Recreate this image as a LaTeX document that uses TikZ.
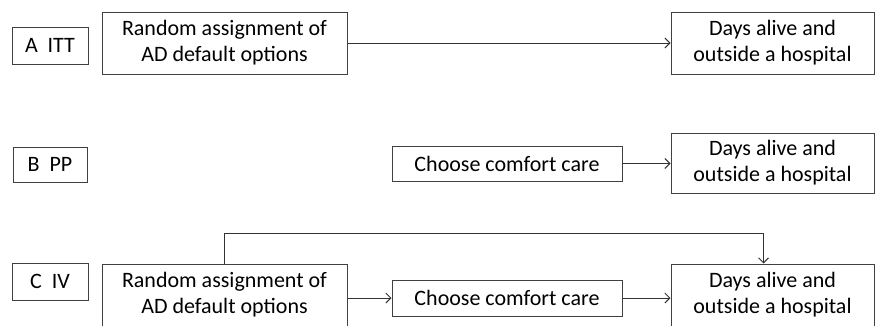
\documentclass[tikz,border=0pt]{standalone}
\usepackage{fontspec}
\setmainfont{Carlito}
\usetikzlibrary{arrows.meta,calc}
\tikzset{
  box/.style={draw=black!75, line width=1pt, inner sep=0pt, align=center, font=\fontsize{22}{26}\selectfont},
  arr/.style={draw=black!80, line width=0.9pt, -{Straight Barb[length=5pt,width=10pt]}}
}
\begin{document}
\begin{tikzpicture}[x=1pt,y=-1pt]
\useasboundingbox (0,0) rectangle (876,325);
% Row A
\node[box, minimum width=76pt, minimum height=37pt] (LA) at (50,45.5) {A\ \ ITT};
\node[box, minimum width=245pt, minimum height=62pt] (RA) at (224.5,43) {Random assignment of\\AD default options};
\node[box, minimum width=203pt, minimum height=62pt] (OA) at (772.5,43) {Days alive and\\outside a hospital};
\draw[arr] (RA.east) -- (OA.west);
% Row B
\node[box, minimum width=74pt, minimum height=35pt] (LB) at (50,164.5) {B\ \ PP};
\node[box, minimum width=230pt, minimum height=35pt] (CB) at (507,163.5) {Choose comfort care};
\node[box, minimum width=203pt, minimum height=60pt] (OB) at (772.5,163) {Days alive and\\outside a hospital};
\draw[arr] (CB.east) -- (CB.east -| OB.west);
% Row C
\node[box, minimum width=76pt, minimum height=37pt] (LC) at (50,281.5) {C\ \ IV};
\node[box, minimum width=245pt, minimum height=62pt] (RC) at (224.5,295) {Random assignment of\\AD default options};
\node[box, minimum width=230pt, minimum height=36pt] (CC) at (507,298) {Choose comfort care};
\node[box, minimum width=203pt, minimum height=62pt] (OC) at (772.5,295) {Days alive and\\outside a hospital};
\draw[arr] (CC.west -| RC.east) -- (CC.west);
\draw[arr] (CC.east) -- (CC.east -| OC.west);
\draw[arr] (RC.north) -- ++(0,-30) -| ([xshift=-9pt]OC.north);
\end{tikzpicture}
\end{document}
